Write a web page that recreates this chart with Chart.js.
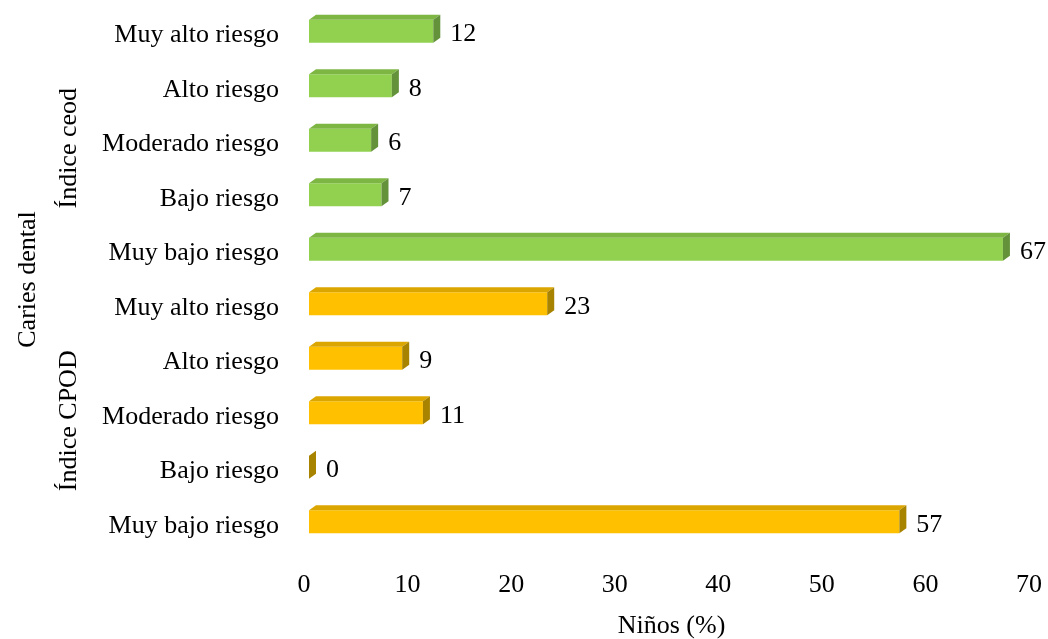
<!DOCTYPE html>
<html>
<head>
<meta charset="utf-8">
<script src="https://cdn.jsdelivr.net/npm/chart.js@4.4.1/dist/chart.umd.min.js"></script>
<style>
  html, body { margin: 0; padding: 0; background: #fff; }
  #wrap { width: 1048px; height: 639px; }
</style>
</head>
<body>
<div id="wrap"><canvas id="chart" width="1048" height="639"></canvas></div>
<script>
'use strict';
// Caries dental: children (%) by risk level, ceod and CPOD indices
var categories = ['Muy alto riesgo', 'Alto riesgo', 'Moderado riesgo', 'Bajo riesgo', 'Muy bajo riesgo',
                  'Muy alto riesgo', 'Alto riesgo', 'Moderado riesgo', 'Bajo riesgo', 'Muy bajo riesgo'];
var ceodValues = [12, 8, 6, 7, 67];
var cpodValues = [23, 9, 11, 0, 57];
var groups = ['Índice ceod', 'Índice CPOD'];
var outerTitle = 'Caries dental';
var xTitle = 'Niños (%)';
var xTicks = [0, 10, 20, 30, 40, 50, 60, 70];

var FONT = "'Liberation Serif', 'Times New Roman', serif";
var FS = 26;
var green = { front: '#92D050', top: '#7EB644', side: '#64923A' };
var amber = { front: '#FFC000', top: '#DCA600', side: '#A88300' };

var values = ceodValues.concat(cpodValues);
var faces = ceodValues.map(function () { return green; })
    .concat(cpodValues.map(function () { return amber; }));

var DX = 7, DY = 5;

// extruded look: top and right faces plus the value text
var bar3d = {
    id: 'bar3d',
    afterDatasetsDraw: function (chart) {
        var ctx = chart.ctx;
        var meta = chart.getDatasetMeta(0);
        ctx.save();
        meta.data.forEach(function (bar, i) {
            var f = faces[i];
            var x0 = bar.base, x1 = bar.x;
            var top = bar.y - bar.height / 2, bot = bar.y + bar.height / 2;
            if (x1 > x0) {
                ctx.fillStyle = f.top;
                ctx.beginPath();
                ctx.moveTo(x0, top); ctx.lineTo(x1, top);
                ctx.lineTo(x1 + DX, top - DY); ctx.lineTo(x0 + DX, top - DY);
                ctx.closePath(); ctx.fill();
            }
            ctx.fillStyle = f.side;
            ctx.beginPath();
            ctx.moveTo(x1, top); ctx.lineTo(x1 + DX, top - DY);
            ctx.lineTo(x1 + DX, bot - DY); ctx.lineTo(x1, bot);
            ctx.closePath(); ctx.fill();

            ctx.fillStyle = '#000';
            ctx.font = FS + 'px ' + FONT;
            ctx.textAlign = 'left';
            ctx.textBaseline = 'middle';
            ctx.fillText(String(values[i]), x1 + DX + 10, bar.y + 3);
        });
        ctx.restore();
    }
};

// rotated group labels to the left of the category labels
var groupLabels = {
    id: 'groupLabels',
    afterDraw: function (chart) {
        var ctx = chart.ctx, y = chart.scales.y;
        var n = ceodValues.length;
        var mid1 = (y.getPixelForValue(0) + y.getPixelForValue(n - 1)) / 2;
        var mid2 = (y.getPixelForValue(n) + y.getPixelForValue(values.length - 1)) / 2;
        var midAll = (y.getPixelForValue(0) + y.getPixelForValue(values.length - 1)) / 2;
        ctx.save();
        ctx.fillStyle = '#000';
        ctx.font = FS + 'px ' + FONT;
        ctx.textAlign = 'center';
        ctx.textBaseline = 'middle';
        [[groups[0], 69, mid1 + 8], [groups[1], 69, mid2 + 8], [outerTitle, 28, midAll + 3]].forEach(function (t) {
            ctx.save();
            ctx.translate(t[1], t[2]);
            ctx.rotate(-Math.PI / 2);
            ctx.fillText(t[0], 0, 0);
            ctx.restore();
        });
        ctx.restore();
    }
};

new Chart(document.getElementById('chart').getContext('2d'), {
    type: 'bar',
    data: {
        labels: categories,
        datasets: [{
            data: values,
            backgroundColor: faces.map(function (f) { return f.front; }),
            borderWidth: 0,
            barPercentage: 0.84,
            categoryPercentage: 0.5
        }]
    },
    options: {
        indexAxis: 'y',
        responsive: false,
        animation: false,
        layout: { padding: { top: 4, right: 14, bottom: 0, left: 0 } },
        plugins: { legend: { display: false }, tooltip: { enabled: false } },
        scales: {
            x: {
                min: 0, max: 70,
                afterBuildTicks: function (s) { s.ticks = xTicks.map(function (v) { return { value: v }; }); },
                grid: { display: false },
                border: { display: false },
                ticks: { color: '#000', font: { family: FONT, size: FS }, padding: 13, labelOffset: -5, maxRotation: 0 },
                title: { display: true, text: xTitle, color: '#000', font: { family: FONT, size: FS, lineHeight: 1.0 }, padding: { top: 0, bottom: 0 } },
                afterFit: function (s) { s.height = 90; s.paddingLeft = 0; s.paddingRight = 0; }
            },
            y: {
                grid: { display: false },
                border: { display: false },
                ticks: { color: '#000', font: { family: FONT, size: FS }, padding: 22, labelOffset: 4, autoSkip: false },
                afterFit: function (s) { s.width = 309; s.paddingTop = 0; s.paddingBottom = 0; }
            }
        }
    },
    plugins: [bar3d, groupLabels]
});
</script>
</body>
</html>
